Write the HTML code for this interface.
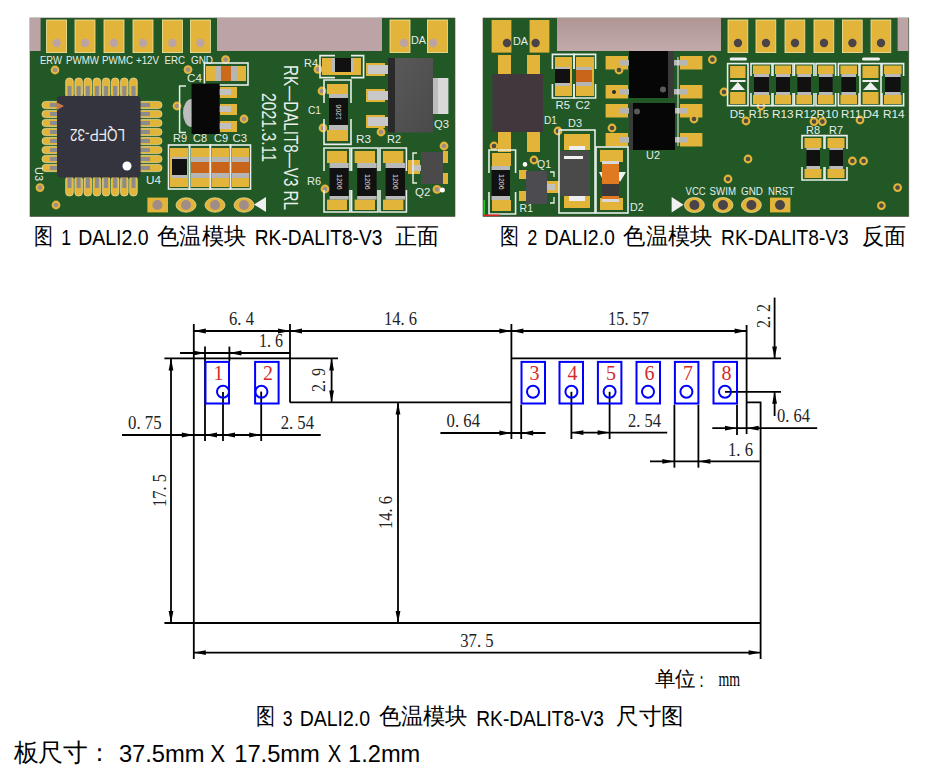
<!DOCTYPE html>
<html><head><meta charset="utf-8"><style>
html,body{margin:0;padding:0;background:#fff;}
body{width:931px;height:775px;overflow:hidden;position:relative;font-family:"Liberation Sans",sans-serif;}
svg{position:absolute;left:0;top:0;}
</style></head><body>
<svg width="931" height="775" viewBox="0 0 931 775">
<rect x="30" y="18" width="425.0" height="198.5" fill="#215826" stroke="#4a4a38" stroke-width="0.6"/>
<rect x="30" y="18" width="10.6" height="33.0" fill="#bba3a6" />
<rect x="217" y="18" width="165.0" height="33.0" fill="#bba3a6" />
<rect x="46.6" y="20" width="20.0" height="32.6" fill="#e2b43a" />
<rect x="46.6" y="20" width="20.0" height="32.6" fill="none" stroke="#f4e6a0" stroke-width="0.8"/>
<circle cx="56.6" cy="43" r="4.2" fill="#bba3a6"/>
<rect x="75" y="20" width="20.0" height="32.6" fill="#e2b43a" />
<rect x="75" y="20" width="20.0" height="32.6" fill="none" stroke="#f4e6a0" stroke-width="0.8"/>
<circle cx="85" cy="43" r="4.2" fill="#bba3a6"/>
<rect x="104" y="20" width="20.0" height="32.6" fill="#e2b43a" />
<rect x="104" y="20" width="20.0" height="32.6" fill="none" stroke="#f4e6a0" stroke-width="0.8"/>
<circle cx="114" cy="43" r="4.2" fill="#bba3a6"/>
<rect x="133" y="20" width="20.0" height="32.6" fill="#e2b43a" />
<rect x="133" y="20" width="20.0" height="32.6" fill="none" stroke="#f4e6a0" stroke-width="0.8"/>
<circle cx="143" cy="43" r="4.2" fill="#bba3a6"/>
<rect x="162.4" y="20" width="20.0" height="32.6" fill="#e2b43a" />
<rect x="162.4" y="20" width="20.0" height="32.6" fill="none" stroke="#f4e6a0" stroke-width="0.8"/>
<circle cx="172.4" cy="43" r="4.2" fill="#bba3a6"/>
<rect x="190.4" y="20" width="20.0" height="32.6" fill="#e2b43a" />
<rect x="190.4" y="20" width="20.0" height="32.6" fill="none" stroke="#f4e6a0" stroke-width="0.8"/>
<circle cx="200.4" cy="43" r="4.2" fill="#bba3a6"/>
<rect x="390" y="20" width="20.0" height="32.6" fill="#e2b43a" />
<rect x="390" y="20" width="20.0" height="32.6" fill="none" stroke="#f4e6a0" stroke-width="0.8"/>
<circle cx="404" cy="43" r="4.2" fill="#bba3a6"/>
<rect x="427.4" y="20" width="20.0" height="32.6" fill="#e2b43a" />
<rect x="427.4" y="20" width="20.0" height="32.6" fill="none" stroke="#f4e6a0" stroke-width="0.8"/>
<circle cx="433" cy="43" r="4.2" fill="#bba3a6"/>
<text x="411" y="44" font-family="Liberation Sans" font-size="11" fill="#e8eee8" textLength="15.0" lengthAdjust="spacingAndGlyphs" >DA</text>
<text x="40" y="63.6" font-family="Liberation Sans" font-size="10" fill="#e8eee8" textLength="22.0" lengthAdjust="spacingAndGlyphs" >ERW</text>
<text x="66" y="63.6" font-family="Liberation Sans" font-size="10" fill="#e8eee8" textLength="33.0" lengthAdjust="spacingAndGlyphs" >PWMW</text>
<text x="102" y="63.6" font-family="Liberation Sans" font-size="10" fill="#e8eee8" textLength="31.0" lengthAdjust="spacingAndGlyphs" >PWMC</text>
<text x="136" y="63.6" font-family="Liberation Sans" font-size="10" fill="#e8eee8" textLength="23.0" lengthAdjust="spacingAndGlyphs" >+12V</text>
<text x="164.4" y="63.6" font-family="Liberation Sans" font-size="10" fill="#e8eee8" textLength="20.6" lengthAdjust="spacingAndGlyphs" >ERC</text>
<text x="191" y="63.6" font-family="Liberation Sans" font-size="10" fill="#e8eee8" textLength="22.0" lengthAdjust="spacingAndGlyphs" >GND</text>
<circle cx="55" cy="70" r="4.4" fill="#e2b43a"/>
<circle cx="55" cy="70" r="2.3" fill="#a08d88"/>
<circle cx="225.6" cy="59.6" r="4.4" fill="#e2b43a"/>
<circle cx="225.6" cy="59.6" r="2.3" fill="#a08d88"/>
<circle cx="188" cy="69.6" r="4.4" fill="#e2b43a"/>
<circle cx="188" cy="69.6" r="2.3" fill="#a08d88"/>
<circle cx="244" cy="119" r="4.4" fill="#e2b43a"/>
<circle cx="244" cy="119" r="2.3" fill="#a08d88"/>
<circle cx="40" cy="187.6" r="4.4" fill="#e2b43a"/>
<circle cx="40" cy="187.6" r="2.3" fill="#a08d88"/>
<circle cx="56" cy="205" r="4.4" fill="#e2b43a"/>
<circle cx="56" cy="205" r="2.3" fill="#a08d88"/>
<circle cx="318" cy="69.4" r="4.4" fill="#e2b43a"/>
<circle cx="318" cy="69.4" r="2.3" fill="#a08d88"/>
<circle cx="322" cy="91" r="4.4" fill="#e2b43a"/>
<circle cx="322" cy="91" r="2.3" fill="#a08d88"/>
<circle cx="323" cy="128" r="4.4" fill="#e2b43a"/>
<circle cx="323" cy="128" r="2.3" fill="#a08d88"/>
<circle cx="381" cy="132" r="4.4" fill="#e2b43a"/>
<circle cx="381" cy="132" r="2.3" fill="#a08d88"/>
<circle cx="444" cy="146" r="4.4" fill="#e2b43a"/>
<circle cx="444" cy="146" r="2.3" fill="#a08d88"/>
<circle cx="325" cy="189" r="4.4" fill="#e2b43a"/>
<circle cx="325" cy="189" r="2.3" fill="#a08d88"/>
<circle cx="437" cy="189.4" r="4.4" fill="#e2b43a"/>
<circle cx="437" cy="189.4" r="2.3" fill="#a08d88"/>
<rect x="65.7" y="78" width="7.6" height="20.0" fill="#e2b43a" rx="3.5" stroke="#efe3a8" stroke-width="0.7"/>
<rect x="67.5" y="86" width="4.0" height="10.0" fill="#8c8c8c" />
<rect x="65.7" y="176" width="7.6" height="20.0" fill="#e2b43a" rx="3.5" stroke="#efe3a8" stroke-width="0.7"/>
<rect x="67.5" y="178" width="4.0" height="10.0" fill="#8c8c8c" />
<rect x="42" y="101.4" width="18.0" height="7.2" fill="#e2b43a" rx="3.5" stroke="#efe3a8" stroke-width="0.7"/>
<rect x="50" y="103" width="9.0" height="4.0" fill="#8c8c8c" />
<rect x="138" y="101.4" width="24.0" height="7.2" fill="#e2b43a" rx="3.5" stroke="#efe3a8" stroke-width="0.7"/>
<rect x="139" y="103" width="11.0" height="4.0" fill="#8c8c8c" />
<rect x="74.84" y="78" width="7.6" height="20.0" fill="#e2b43a" rx="3.5" stroke="#efe3a8" stroke-width="0.7"/>
<rect x="76.64" y="86" width="4.0" height="10.0" fill="#8c8c8c" />
<rect x="74.84" y="176" width="7.6" height="20.0" fill="#e2b43a" rx="3.5" stroke="#efe3a8" stroke-width="0.7"/>
<rect x="76.64" y="178" width="4.0" height="10.0" fill="#8c8c8c" />
<rect x="42" y="110.4" width="18.0" height="7.2" fill="#e2b43a" rx="3.5" stroke="#efe3a8" stroke-width="0.7"/>
<rect x="50" y="112" width="9.0" height="4.0" fill="#8c8c8c" />
<rect x="138" y="110.4" width="24.0" height="7.2" fill="#e2b43a" rx="3.5" stroke="#efe3a8" stroke-width="0.7"/>
<rect x="139" y="112" width="11.0" height="4.0" fill="#8c8c8c" />
<rect x="83.98" y="78" width="7.6" height="20.0" fill="#e2b43a" rx="3.5" stroke="#efe3a8" stroke-width="0.7"/>
<rect x="85.78" y="86" width="4.0" height="10.0" fill="#8c8c8c" />
<rect x="83.98" y="176" width="7.6" height="20.0" fill="#e2b43a" rx="3.5" stroke="#efe3a8" stroke-width="0.7"/>
<rect x="85.78" y="178" width="4.0" height="10.0" fill="#8c8c8c" />
<rect x="42" y="119.4" width="18.0" height="7.2" fill="#e2b43a" rx="3.5" stroke="#efe3a8" stroke-width="0.7"/>
<rect x="50" y="121" width="9.0" height="4.0" fill="#8c8c8c" />
<rect x="138" y="119.4" width="24.0" height="7.2" fill="#e2b43a" rx="3.5" stroke="#efe3a8" stroke-width="0.7"/>
<rect x="139" y="121" width="11.0" height="4.0" fill="#8c8c8c" />
<rect x="93.12" y="78" width="7.6" height="20.0" fill="#e2b43a" rx="3.5" stroke="#efe3a8" stroke-width="0.7"/>
<rect x="94.92" y="86" width="4.0" height="10.0" fill="#8c8c8c" />
<rect x="93.12" y="176" width="7.6" height="20.0" fill="#e2b43a" rx="3.5" stroke="#efe3a8" stroke-width="0.7"/>
<rect x="94.92" y="178" width="4.0" height="10.0" fill="#8c8c8c" />
<rect x="42" y="128.4" width="18.0" height="7.2" fill="#e2b43a" rx="3.5" stroke="#efe3a8" stroke-width="0.7"/>
<rect x="50" y="130" width="9.0" height="4.0" fill="#8c8c8c" />
<rect x="138" y="128.4" width="24.0" height="7.2" fill="#e2b43a" rx="3.5" stroke="#efe3a8" stroke-width="0.7"/>
<rect x="139" y="130" width="11.0" height="4.0" fill="#8c8c8c" />
<rect x="102.26" y="78" width="7.6" height="20.0" fill="#e2b43a" rx="3.5" stroke="#efe3a8" stroke-width="0.7"/>
<rect x="104.06" y="86" width="4.0" height="10.0" fill="#8c8c8c" />
<rect x="102.26" y="176" width="7.6" height="20.0" fill="#e2b43a" rx="3.5" stroke="#efe3a8" stroke-width="0.7"/>
<rect x="104.06" y="178" width="4.0" height="10.0" fill="#8c8c8c" />
<rect x="42" y="137.4" width="18.0" height="7.2" fill="#e2b43a" rx="3.5" stroke="#efe3a8" stroke-width="0.7"/>
<rect x="50" y="139" width="9.0" height="4.0" fill="#8c8c8c" />
<rect x="138" y="137.4" width="24.0" height="7.2" fill="#e2b43a" rx="3.5" stroke="#efe3a8" stroke-width="0.7"/>
<rect x="139" y="139" width="11.0" height="4.0" fill="#8c8c8c" />
<rect x="111.4" y="78" width="7.6" height="20.0" fill="#e2b43a" rx="3.5" stroke="#efe3a8" stroke-width="0.7"/>
<rect x="113.2" y="86" width="4.0" height="10.0" fill="#8c8c8c" />
<rect x="111.4" y="176" width="7.6" height="20.0" fill="#e2b43a" rx="3.5" stroke="#efe3a8" stroke-width="0.7"/>
<rect x="113.2" y="178" width="4.0" height="10.0" fill="#8c8c8c" />
<rect x="42" y="146.4" width="18.0" height="7.2" fill="#e2b43a" rx="3.5" stroke="#efe3a8" stroke-width="0.7"/>
<rect x="50" y="148" width="9.0" height="4.0" fill="#8c8c8c" />
<rect x="138" y="146.4" width="24.0" height="7.2" fill="#e2b43a" rx="3.5" stroke="#efe3a8" stroke-width="0.7"/>
<rect x="139" y="148" width="11.0" height="4.0" fill="#8c8c8c" />
<rect x="120.54" y="78" width="7.6" height="20.0" fill="#e2b43a" rx="3.5" stroke="#efe3a8" stroke-width="0.7"/>
<rect x="122.34" y="86" width="4.0" height="10.0" fill="#8c8c8c" />
<rect x="120.54" y="176" width="7.6" height="20.0" fill="#e2b43a" rx="3.5" stroke="#efe3a8" stroke-width="0.7"/>
<rect x="122.34" y="178" width="4.0" height="10.0" fill="#8c8c8c" />
<rect x="42" y="155.4" width="18.0" height="7.2" fill="#e2b43a" rx="3.5" stroke="#efe3a8" stroke-width="0.7"/>
<rect x="50" y="157" width="9.0" height="4.0" fill="#8c8c8c" />
<rect x="138" y="155.4" width="24.0" height="7.2" fill="#e2b43a" rx="3.5" stroke="#efe3a8" stroke-width="0.7"/>
<rect x="139" y="157" width="11.0" height="4.0" fill="#8c8c8c" />
<rect x="129.68" y="78" width="7.6" height="20.0" fill="#e2b43a" rx="3.5" stroke="#efe3a8" stroke-width="0.7"/>
<rect x="131.48000000000002" y="86" width="4.0" height="10.0" fill="#8c8c8c" />
<rect x="129.68" y="176" width="7.6" height="20.0" fill="#e2b43a" rx="3.5" stroke="#efe3a8" stroke-width="0.7"/>
<rect x="131.48000000000002" y="178" width="4.0" height="10.0" fill="#8c8c8c" />
<rect x="42" y="164.4" width="18.0" height="7.2" fill="#e2b43a" rx="3.5" stroke="#efe3a8" stroke-width="0.7"/>
<rect x="50" y="166" width="9.0" height="4.0" fill="#8c8c8c" />
<rect x="138" y="164.4" width="24.0" height="7.2" fill="#e2b43a" rx="3.5" stroke="#efe3a8" stroke-width="0.7"/>
<rect x="139" y="166" width="11.0" height="4.0" fill="#8c8c8c" />
<rect x="57" y="96" width="83.6" height="81.6" fill="#34343f" rx="4" />
<circle cx="127" cy="166" r="4.5" fill="#ffffff"/>
<polygon points="56,102 64,106 57,110" fill="#c87848"/>
<text x="0" y="0" transform="translate(125,129) rotate(180)" font-family="Liberation Sans" font-size="17" fill="#eeeeee" textLength="55" lengthAdjust="spacingAndGlyphs">LQFP-32</text>
<text x="0" y="0" transform="translate(35,167) rotate(90)" font-family="Liberation Sans" font-size="10.5" fill="#e8eee8" textLength="14.0" lengthAdjust="spacingAndGlyphs">U3</text>
<text x="146" y="184" font-family="Liberation Sans" font-size="10.5" fill="#e8eee8" textLength="15.0" lengthAdjust="spacingAndGlyphs" >U4</text>
<rect x="147.4" y="197.6" width="20.6" height="14.8" fill="#e2b43a" />
<circle cx="157.4" cy="205" r="5" fill="#a08d88"/>
<ellipse cx="186" cy="205" rx="10" ry="7.2" fill="#e2b43a" stroke="#efe3a8" stroke-width="0.7"/>
<circle cx="186" cy="205" r="5" fill="#a08d88"/>
<ellipse cx="215" cy="205" rx="10" ry="7.2" fill="#e2b43a" stroke="#efe3a8" stroke-width="0.7"/>
<circle cx="215" cy="205" r="5" fill="#a08d88"/>
<ellipse cx="244" cy="205" rx="10" ry="7.2" fill="#e2b43a" stroke="#efe3a8" stroke-width="0.7"/>
<circle cx="244" cy="205" r="5" fill="#a08d88"/>
<polygon points="254,204.5 266,197 266,212" fill="#f0f0f0"/>
<rect x="204.4" y="63" width="43.6" height="22.0" fill="none" stroke="#e8eee8" stroke-width="1.6"/>
<rect x="206" y="66" width="40.0" height="15.0" fill="#e2b43a" />
<rect x="215" y="66" width="22.0" height="15.0" fill="#b5b5b5" />
<rect x="221" y="66" width="10.0" height="15.0" fill="#cc6a1c" />
<text x="187" y="82" font-family="Liberation Sans" font-size="10.5" fill="#e8eee8" textLength="15.0" lengthAdjust="spacingAndGlyphs" >C4</text>
<ellipse cx="191.6" cy="113" rx="8.6" ry="14" fill="#bdbdbd" />
<circle cx="177" cy="106" r="4.4" fill="#e2b43a"/>
<circle cx="177" cy="106" r="2.3" fill="#a08d88"/>
<path d="M186,86 H179.6 V132.4 H186" fill="none" stroke="#e8eee8" stroke-width="1.5"/>
<rect x="220" y="87" width="17.0" height="11.0" fill="#e2b43a" />
<rect x="219" y="89" width="12.0" height="6.0" fill="#c0c0c0" />
<rect x="220" y="104" width="17.0" height="11.0" fill="#e2b43a" />
<rect x="219" y="106" width="12.0" height="6.0" fill="#c0c0c0" />
<rect x="220" y="121" width="17.0" height="11.0" fill="#e2b43a" />
<rect x="219" y="123" width="12.0" height="6.0" fill="#c0c0c0" />
<rect x="191.6" y="83.6" width="28.0" height="50.4" fill="#080808" />
<text x="173" y="142.4" font-family="Liberation Sans" font-size="10.5" fill="#e8eee8" textLength="14.0" lengthAdjust="spacingAndGlyphs" >R9</text>
<text x="193" y="142.4" font-family="Liberation Sans" font-size="10.5" fill="#e8eee8" textLength="14.0" lengthAdjust="spacingAndGlyphs" >C8</text>
<text x="214" y="142.4" font-family="Liberation Sans" font-size="10.5" fill="#e8eee8" textLength="14.0" lengthAdjust="spacingAndGlyphs" >C9</text>
<text x="232.4" y="142.4" font-family="Liberation Sans" font-size="10.5" fill="#e8eee8" textLength="14.6" lengthAdjust="spacingAndGlyphs" >C3</text>
<rect x="168.5" y="145" width="21.0" height="44.0" fill="none" stroke="#e8eee8" stroke-width="1.6"/>
<rect x="170" y="148" width="18.0" height="39.0" fill="#e2b43a" />
<rect x="171" y="157" width="16.0" height="21.0" fill="#b9b9b9" />
<rect x="172" y="159" width="15.0" height="16.0" fill="#111" />
<rect x="189.5" y="145" width="21.0" height="44.0" fill="none" stroke="#e8eee8" stroke-width="1.6"/>
<rect x="191" y="148" width="18.0" height="39.0" fill="#e2b43a" />
<rect x="191" y="157" width="18.0" height="21.0" fill="#b5b5b5" />
<rect x="191" y="162" width="18.0" height="11.0" fill="#c8651a" />
<rect x="210.1" y="145" width="20.4" height="44.0" fill="none" stroke="#e8eee8" stroke-width="1.6"/>
<rect x="211.6" y="148" width="17.4" height="39.0" fill="#e2b43a" />
<rect x="211.6" y="157" width="17.4" height="21.0" fill="#b5b5b5" />
<rect x="211.6" y="162" width="17.4" height="11.0" fill="#c8651a" />
<rect x="230.5" y="145" width="20.0" height="44.0" fill="none" stroke="#e8eee8" stroke-width="1.6"/>
<rect x="232" y="148" width="17.0" height="39.0" fill="#e2b43a" />
<rect x="232" y="157" width="17.0" height="21.0" fill="#b5b5b5" />
<rect x="232" y="162" width="17.0" height="11.0" fill="#c8651a" />
<text x="0" y="0" transform="translate(284,65) rotate(90)" font-family="Liberation Sans" font-size="19.5" fill="#e8eee8" textLength="145.0" lengthAdjust="spacingAndGlyphs">RK—DALIT8—V3  RL</text>
<text x="0" y="0" transform="translate(262,93) rotate(90)" font-family="Liberation Sans" font-size="19.5" fill="#e8eee8" textLength="69.0" lengthAdjust="spacingAndGlyphs">2021.3.11</text>
<path d="M335,55.6 H320 V77.6 H335 M351,55.6 H363.6 V77.6 H351" fill="none" stroke="#e8eee8" stroke-width="1.6"/>
<rect x="322" y="58" width="39.0" height="17.0" fill="#e2b43a" />
<rect x="332" y="58" width="22.0" height="14.0" fill="#b9b9b9" />
<rect x="335" y="58" width="16.0" height="14.0" fill="#111" />
<text x="304" y="67" font-family="Liberation Sans" font-size="10.5" fill="#e8eee8" textLength="14.0" lengthAdjust="spacingAndGlyphs" >R4</text>
<path d="M324,103 V80 H351 V103 M324,119 V144.4 H351 V119" fill="none" stroke="#e8eee8" stroke-width="1.6"/>
<rect x="327" y="84" width="21.0" height="10.0" fill="#e2b43a" />
<rect x="327" y="130" width="21.0" height="11.0" fill="#e2b43a" />
<rect x="329" y="94" width="19.0" height="4.0" fill="#b9b9b9" />
<rect x="329" y="125" width="19.0" height="5.0" fill="#b9b9b9" />
<rect x="329" y="98" width="19.0" height="27.0" fill="#111" />
<text x="308" y="114.4" font-family="Liberation Sans" font-size="10.5" fill="#e8eee8" textLength="13.0" lengthAdjust="spacingAndGlyphs" >C1</text>
<rect x="366" y="63" width="19.0" height="13.0" fill="#e2b43a" />
<rect x="368" y="65" width="21.0" height="9.0" fill="#c8c8c8" />
<rect x="366" y="89" width="19.0" height="13.0" fill="#e2b43a" />
<rect x="368" y="91" width="21.0" height="9.0" fill="#c8c8c8" />
<rect x="366" y="115" width="19.0" height="13.0" fill="#e2b43a" />
<rect x="368" y="117" width="21.0" height="9.0" fill="#c8c8c8" />
<rect x="433" y="78" width="15.4" height="36.0" fill="#d9d9d9" />
<rect x="433" y="78" width="5.0" height="36.0" fill="#bdbdbd" />
<defs><linearGradient id="q3g" x1="0" y1="0" x2="1" y2="1"><stop offset="0" stop-color="#5a5a5a"/><stop offset="1" stop-color="#4a4a4a"/></linearGradient></defs>
<rect x="388" y="58" width="45.0" height="74.4" fill="url(#q3g)" />
<rect x="388" y="58" width="7.0" height="74.4" fill="#2a2a2a" />
<text x="434" y="128" font-family="Liberation Sans" font-size="10.5" fill="#e8eee8" textLength="15.0" lengthAdjust="spacingAndGlyphs" >Q3</text>
<text x="356" y="143" font-family="Liberation Sans" font-size="10.5" fill="#e8eee8" textLength="15.0" lengthAdjust="spacingAndGlyphs" >R3</text>
<text x="387" y="143" font-family="Liberation Sans" font-size="10.5" fill="#e8eee8" textLength="14.0" lengthAdjust="spacingAndGlyphs" >R2</text>
<path d="M324,171 V148 H350 V171 M324,190 V212 H350 V190" fill="none" stroke="#e8eee8" stroke-width="1.6"/>
<rect x="327" y="151" width="20.0" height="12.0" fill="#e2b43a" />
<rect x="327" y="199.6" width="20.0" height="10.4" fill="#e2b43a" />
<rect x="329.6" y="163" width="19.0" height="5.0" fill="#b9b9b9" />
<rect x="329.6" y="196" width="19.0" height="3.6" fill="#b9b9b9" />
<rect x="329.6" y="168" width="19.0" height="28.0" fill="#111" />
<path d="M351.6,171 V148 H378 V171 M351.6,190 V212 H378 V190" fill="none" stroke="#e8eee8" stroke-width="1.6"/>
<rect x="354.6" y="151" width="20.4" height="12.0" fill="#e2b43a" />
<rect x="354.6" y="199.6" width="20.4" height="10.4" fill="#e2b43a" />
<rect x="357.20000000000005" y="163" width="19.4" height="5.0" fill="#b9b9b9" />
<rect x="357.20000000000005" y="196" width="19.4" height="3.6" fill="#b9b9b9" />
<rect x="357.20000000000005" y="168" width="19.4" height="28.0" fill="#111" />
<path d="M380,171 V148 H406.4 V171 M380,190 V212 H406.4 V190" fill="none" stroke="#e8eee8" stroke-width="1.6"/>
<rect x="383" y="151" width="20.4" height="12.0" fill="#e2b43a" />
<rect x="383" y="199.6" width="20.4" height="10.4" fill="#e2b43a" />
<rect x="385.6" y="163" width="19.4" height="5.0" fill="#b9b9b9" />
<rect x="385.6" y="196" width="19.4" height="3.6" fill="#b9b9b9" />
<rect x="385.6" y="168" width="19.4" height="28.0" fill="#111" />
<text transform="translate(336.8,174) rotate(90)" font-family="Liberation Sans" font-size="7" fill="#dddddd">1206</text>
<text transform="translate(364.5,174) rotate(90)" font-family="Liberation Sans" font-size="7" fill="#dddddd">1206</text>
<text transform="translate(392.8,174) rotate(90)" font-family="Liberation Sans" font-size="7" fill="#dddddd">1206</text>
<text transform="translate(341,120) rotate(-90)" font-family="Liberation Sans" font-size="7" fill="#dddddd">1206</text>
<text x="307" y="185" font-family="Liberation Sans" font-size="10.5" fill="#e8eee8" textLength="14.0" lengthAdjust="spacingAndGlyphs" >R6</text>
<rect x="408" y="160" width="12.0" height="14.0" fill="#e2b43a" />
<rect x="412" y="165" width="10.0" height="6.0" fill="#c0c0c0" />
<rect x="443" y="151" width="5.0" height="12.0" fill="#e2b43a" />
<rect x="443" y="173" width="5.0" height="11.0" fill="#e2b43a" />
<rect x="421" y="152" width="22.0" height="32.0" fill="#4a4a4a" />
<path d="M417,153 H413 V183 H417" fill="none" stroke="#e8eee8" stroke-width="1.4"/>
<text x="415" y="195.6" font-family="Liberation Sans" font-size="10.5" fill="#e8eee8" textLength="15.4" lengthAdjust="spacingAndGlyphs" >Q2</text>
<circle cx="442.4" cy="190" r="2.5" fill="#ffffff"/>
<rect x="483" y="18" width="425.8" height="198.5" fill="#215826" stroke="#4a4a38" stroke-width="0.6"/>
<defs><linearGradient id="pk" x1="0" y1="0" x2="0" y2="1"><stop offset="0" stop-color="#b09595"/><stop offset="1" stop-color="#c2aaaa"/></linearGradient></defs>
<rect x="557" y="18" width="164.0" height="33.0" fill="url(#pk)" />
<rect x="897.6" y="18" width="10.8" height="33.0" fill="#bba3a6" />
<rect x="491.6" y="20" width="19.8" height="32.6" fill="#e2b43a" />
<circle cx="507" cy="43" r="4.2" fill="#4a4448"/>
<rect x="529.6" y="20" width="19.8" height="32.6" fill="#e2b43a" />
<circle cx="535.6" cy="43" r="4.2" fill="#4a4448"/>
<text x="513" y="45" font-family="Liberation Sans" font-size="11" fill="#e8eee8" textLength="15.0" lengthAdjust="spacingAndGlyphs" >DA</text>
<rect x="728" y="20" width="19.8" height="32.6" fill="#e2b43a" />
<rect x="728" y="20" width="19.8" height="32.6" fill="none" stroke="#f4e6a0" stroke-width="0.8"/>
<circle cx="738" cy="43" r="4.2" fill="#4a4448"/>
<rect x="756" y="20" width="19.8" height="32.6" fill="#e2b43a" />
<rect x="756" y="20" width="19.8" height="32.6" fill="none" stroke="#f4e6a0" stroke-width="0.8"/>
<circle cx="766" cy="43" r="4.2" fill="#4a4448"/>
<rect x="785" y="20" width="19.8" height="32.6" fill="#e2b43a" />
<rect x="785" y="20" width="19.8" height="32.6" fill="none" stroke="#f4e6a0" stroke-width="0.8"/>
<circle cx="795" cy="43" r="4.2" fill="#4a4448"/>
<rect x="814" y="20" width="19.8" height="32.6" fill="#e2b43a" />
<rect x="814" y="20" width="19.8" height="32.6" fill="none" stroke="#f4e6a0" stroke-width="0.8"/>
<circle cx="824" cy="43" r="4.2" fill="#4a4448"/>
<rect x="842.4" y="20" width="19.8" height="32.6" fill="#e2b43a" />
<rect x="842.4" y="20" width="19.8" height="32.6" fill="none" stroke="#f4e6a0" stroke-width="0.8"/>
<circle cx="852.4" cy="43" r="4.2" fill="#4a4448"/>
<rect x="871" y="20" width="19.8" height="32.6" fill="#e2b43a" />
<rect x="871" y="20" width="19.8" height="32.6" fill="none" stroke="#f4e6a0" stroke-width="0.8"/>
<circle cx="881" cy="43" r="4.2" fill="#4a4448"/>
<rect x="498" y="55" width="13.0" height="97.0" fill="#e2b43a" />
<rect x="527" y="55" width="13.0" height="97.0" fill="#e2b43a" />
<rect x="492.4" y="74" width="50.6" height="58.0" fill="#41373c" />
<text x="544" y="124" font-family="Liberation Sans" font-size="10.5" fill="#e8eee8" textLength="13.0" lengthAdjust="spacingAndGlyphs" >D1</text>
<path d="M552.4,69 V54.4 H574 V69 M552.4,84 V98 H574 V84" fill="none" stroke="#e8eee8" stroke-width="1.6"/>
<path d="M574,69 V54.4 H595.6 V69 M574,84 V98 H595.6 V84" fill="none" stroke="#e8eee8" stroke-width="1.6"/>
<rect x="555" y="57" width="17.0" height="39.0" fill="#e2b43a" />
<rect x="555" y="67" width="15.0" height="19.0" fill="#b9b9b9" />
<rect x="555" y="69" width="15.0" height="14.0" fill="#111" />
<rect x="576" y="57" width="18.0" height="39.0" fill="#e2b43a" />
<rect x="576" y="67" width="16.0" height="19.0" fill="#b5b5b5" />
<rect x="576" y="70" width="16.0" height="12.0" fill="#c8651a" />
<text x="555.6" y="109" font-family="Liberation Sans" font-size="10.5" fill="#e8eee8" textLength="14.4" lengthAdjust="spacingAndGlyphs" >R5</text>
<text x="575.6" y="109" font-family="Liberation Sans" font-size="10.5" fill="#e8eee8" textLength="14.4" lengthAdjust="spacingAndGlyphs" >C2</text>
<text x="568" y="127" font-family="Liberation Sans" font-size="10.5" fill="#e8eee8" textLength="14.0" lengthAdjust="spacingAndGlyphs" >D3</text>
<rect x="605.6" y="56" width="22.4" height="13.5" fill="#e2b43a" />
<rect x="619" y="60" width="12.0" height="5.5" fill="#b5b5b5" />
<rect x="680" y="56" width="22.4" height="13.5" fill="#e2b43a" />
<rect x="672" y="60" width="16.0" height="5.5" fill="#b5b5b5" />
<rect x="605.6" y="85" width="22.4" height="13.5" fill="#e2b43a" />
<rect x="619" y="89" width="12.0" height="5.5" fill="#b5b5b5" />
<rect x="680" y="85" width="22.4" height="13.5" fill="#e2b43a" />
<rect x="672" y="89" width="16.0" height="5.5" fill="#b5b5b5" />
<rect x="605.6" y="104" width="22.4" height="13.5" fill="#e2b43a" />
<rect x="619" y="108" width="12.0" height="5.5" fill="#b5b5b5" />
<rect x="680" y="104" width="22.4" height="13.5" fill="#e2b43a" />
<rect x="672" y="108" width="16.0" height="5.5" fill="#b5b5b5" />
<rect x="605.6" y="133" width="22.4" height="13.5" fill="#e2b43a" />
<rect x="619" y="137" width="12.0" height="5.5" fill="#b5b5b5" />
<rect x="680" y="133" width="22.4" height="13.5" fill="#e2b43a" />
<rect x="672" y="137" width="16.0" height="5.5" fill="#b5b5b5" />
<path d="M678,57 V146" stroke="#e8eee8" stroke-width="1"/>
<rect x="629" y="51" width="45.0" height="47.0" fill="#060606" />
<rect x="668" y="51" width="6.0" height="47.0" fill="#3a3a3a" />
<circle cx="663" cy="89.6" r="3" fill="#5a5a5a"/>
<rect x="629" y="103" width="46.0" height="47.0" fill="#060606" />
<rect x="629" y="103" width="4.0" height="47.0" fill="#3a3a3a" />
<circle cx="637" cy="111.6" r="3" fill="#5a5a5a"/>
<circle cx="614" cy="92" r="2" fill="#2a2a2a"/>
<text x="646" y="159" font-family="Liberation Sans" font-size="10.5" fill="#e8eee8" textLength="14.0" lengthAdjust="spacingAndGlyphs" >U2</text>
<circle cx="619" cy="70" r="4.4" fill="#e2b43a"/>
<circle cx="619" cy="70" r="2.3" fill="#4e4a40"/>
<circle cx="558" cy="131" r="4.4" fill="#e2b43a"/>
<circle cx="558" cy="131" r="2.3" fill="#4e4a40"/>
<circle cx="612" cy="128" r="4.4" fill="#e2b43a"/>
<circle cx="612" cy="128" r="2.3" fill="#4e4a40"/>
<circle cx="494" cy="146" r="4.4" fill="#e2b43a"/>
<circle cx="494" cy="146" r="2.3" fill="#4e4a40"/>
<circle cx="534" cy="160" r="4.4" fill="#e2b43a"/>
<circle cx="534" cy="160" r="2.3" fill="#4e4a40"/>
<circle cx="712.4" cy="59.6" r="4.4" fill="#e2b43a"/>
<circle cx="712.4" cy="59.6" r="2.3" fill="#4e4a40"/>
<circle cx="724" cy="92" r="4.4" fill="#e2b43a"/>
<circle cx="724" cy="92" r="2.3" fill="#4e4a40"/>
<circle cx="746" cy="121" r="4.4" fill="#e2b43a"/>
<circle cx="746" cy="121" r="2.3" fill="#4e4a40"/>
<circle cx="748" cy="159" r="4.4" fill="#e2b43a"/>
<circle cx="748" cy="159" r="2.3" fill="#4e4a40"/>
<circle cx="728" cy="179" r="4.4" fill="#e2b43a"/>
<circle cx="728" cy="179" r="2.3" fill="#4e4a40"/>
<circle cx="814" cy="121.6" r="4.4" fill="#e2b43a"/>
<circle cx="814" cy="121.6" r="2.3" fill="#4e4a40"/>
<circle cx="822.4" cy="121.6" r="4.4" fill="#e2b43a"/>
<circle cx="822.4" cy="121.6" r="2.3" fill="#4e4a40"/>
<circle cx="860" cy="120" r="4.4" fill="#e2b43a"/>
<circle cx="860" cy="120" r="2.3" fill="#4e4a40"/>
<circle cx="852.4" cy="161" r="4.4" fill="#e2b43a"/>
<circle cx="852.4" cy="161" r="2.3" fill="#4e4a40"/>
<circle cx="863.6" cy="161" r="4.4" fill="#e2b43a"/>
<circle cx="863.6" cy="161" r="2.3" fill="#4e4a40"/>
<circle cx="897.6" cy="187.6" r="4.4" fill="#e2b43a"/>
<circle cx="897.6" cy="187.6" r="2.3" fill="#4e4a40"/>
<circle cx="881.4" cy="205.6" r="4.4" fill="#e2b43a"/>
<circle cx="881.4" cy="205.6" r="2.3" fill="#4e4a40"/>
<circle cx="694" cy="119" r="4.4" fill="#e2b43a"/>
<circle cx="694" cy="119" r="2.3" fill="#4e4a40"/>
<circle cx="761" cy="106" r="4.4" fill="#e2b43a"/>
<circle cx="761" cy="106" r="2.3" fill="#4e4a40"/>
<path d="M489,173 V150 H515.6 V173 M489,192 V214 H515.6 V192" fill="none" stroke="#e8eee8" stroke-width="1.6"/>
<rect x="492" y="153" width="19.0" height="13.0" fill="#e2b43a" />
<rect x="492" y="200" width="19.0" height="11.0" fill="#e2b43a" />
<rect x="491.6" y="166" width="18.4" height="4.0" fill="#b9b9b9" />
<rect x="491.6" y="196" width="18.4" height="4.0" fill="#b9b9b9" />
<rect x="491.6" y="170" width="18.4" height="26.0" fill="#111" />
<text transform="translate(498.5,174) rotate(90)" font-family="Liberation Sans" font-size="7" fill="#dddddd">1206</text>
<text x="519.6" y="212.4" font-family="Liberation Sans" font-size="10.5" fill="#e8eee8" textLength="13.4" lengthAdjust="spacingAndGlyphs" >R1</text>
<rect x="519" y="170" width="8.0" height="9.0" fill="#e2b43a" />
<rect x="519" y="191" width="8.0" height="10.0" fill="#e2b43a" />
<rect x="547" y="181" width="12.0" height="12.0" fill="#e2b43a" />
<rect x="547" y="184" width="8.0" height="6.0" fill="#c0c0c0" />
<rect x="526" y="171" width="21.0" height="33.0" fill="#4b4b50" />
<path d="M550,172 H554 V177 M554,197 V203 H550" fill="none" stroke="#e8eee8" stroke-width="1.3"/>
<text x="537" y="168" font-family="Liberation Sans" font-size="10.5" fill="#e8eee8" textLength="14.0" lengthAdjust="spacingAndGlyphs" >Q1</text>
<circle cx="525" cy="164.4" r="2.3" fill="#ffffff"/>
<rect x="559" y="130" width="36.0" height="83.0" fill="none" stroke="#e8eee8" stroke-width="1.6"/>
<rect x="564" y="134" width="26.0" height="16.0" fill="#e2b43a" />
<rect x="569" y="146" width="16.0" height="4.0" fill="#eeeeee" />
<rect x="564" y="196" width="26.0" height="12.0" fill="#e2b43a" />
<rect x="569" y="196" width="16.0" height="5.0" fill="#eeeeee" />
<rect x="560" y="151" width="30.0" height="45.0" fill="#4a4a4a" />
<rect x="564" y="156" width="19.0" height="3.0" fill="#f0f0f0" />
<rect x="596" y="147" width="32.0" height="66.0" fill="none" stroke="#e8eee8" stroke-width="1.6"/>
<rect x="600" y="150" width="23.0" height="12.0" fill="#e2b43a" />
<rect x="600" y="198" width="23.0" height="12.0" fill="#e2b43a" />
<polygon points="599,172 609,172 604,182" fill="#f0f0f0"/><polygon points="614,172 626,172 620,182" fill="#f0f0f0"/>
<rect x="602" y="161" width="17.0" height="41.0" fill="#e07a20" rx="3" />
<rect x="602" y="161" width="17.0" height="3.0" fill="#d8d8d8" />
<rect x="602" y="199" width="17.0" height="3.0" fill="#d8d8d8" />
<rect x="602" y="184" width="17.0" height="12.0" fill="#3a3a3a" />
<text x="630" y="211" font-family="Liberation Sans" font-size="10.5" fill="#e8eee8" textLength="13.6" lengthAdjust="spacingAndGlyphs" >D2</text>
<polygon points="671.6,197 671.6,212.4 683.6,204.7" fill="#f0f0f0"/>
<ellipse cx="694.4" cy="205" rx="10" ry="7.5" fill="#e2b43a" stroke="#efe3a8" stroke-width="0.7"/>
<circle cx="694.4" cy="205" r="5" fill="#4a4448"/>
<ellipse cx="723" cy="205" rx="10" ry="7.5" fill="#e2b43a" stroke="#efe3a8" stroke-width="0.7"/>
<circle cx="723" cy="205" r="5" fill="#4a4448"/>
<ellipse cx="751.4" cy="205" rx="10" ry="7.5" fill="#e2b43a" stroke="#efe3a8" stroke-width="0.7"/>
<circle cx="751.4" cy="205" r="5" fill="#4a4448"/>
<rect x="770" y="197.6" width="20.4" height="14.8" fill="#e2b43a" />
<circle cx="780" cy="205" r="5" fill="#4a4448"/>
<text x="685.6" y="195" font-family="Liberation Sans" font-size="10" fill="#e8eee8" textLength="20.0" lengthAdjust="spacingAndGlyphs" >VCC</text>
<text x="709.6" y="195" font-family="Liberation Sans" font-size="10" fill="#e8eee8" textLength="26.4" lengthAdjust="spacingAndGlyphs" >SWIM</text>
<text x="741" y="195" font-family="Liberation Sans" font-size="10" fill="#e8eee8" textLength="22.0" lengthAdjust="spacingAndGlyphs" >GND</text>
<text x="768" y="195" font-family="Liberation Sans" font-size="10" fill="#e8eee8" textLength="26.0" lengthAdjust="spacingAndGlyphs" >NRST</text>
<rect x="729.6" y="57.6" width="17.4" height="3.0" fill="#f0f0f0" rx="1.5" />
<rect x="727.6" y="63.6" width="20.4" height="42.0" fill="none" stroke="#e8eee8" stroke-width="1.6"/>
<rect x="730.1" y="66" width="15.4" height="12.0" fill="#e2b43a" />
<rect x="730.1" y="92" width="15.4" height="12.0" fill="#e2b43a" />
<rect x="730.1" y="80" width="15.4" height="2.0" fill="#f0f0f0" />
<polygon points="730.6,90 745,90 737.8,82" fill="#f0f0f0"/>
<rect x="862" y="57.6" width="18.0" height="3.0" fill="#f0f0f0" rx="1.5" />
<rect x="860" y="63.6" width="21.0" height="42.0" fill="none" stroke="#e8eee8" stroke-width="1.6"/>
<rect x="862.5" y="66" width="16.0" height="12.0" fill="#e2b43a" />
<rect x="862.5" y="92" width="16.0" height="12.0" fill="#e2b43a" />
<rect x="862.5" y="80" width="16.0" height="2.0" fill="#f0f0f0" />
<polygon points="863,90 878,90 870.5,82" fill="#f0f0f0"/>
<path d="M751,76 V63.6 H772 V76 M751,93 V105.6 H772 V93" fill="none" stroke="#e8eee8" stroke-width="1.6"/>
<rect x="753" y="65.5" width="17.0" height="8.5" fill="#e2b43a" />
<rect x="753" y="95" width="17.0" height="9.0" fill="#e2b43a" />
<rect x="754" y="74" width="15.0" height="3.0" fill="#b9b9b9" />
<rect x="754" y="92" width="15.0" height="3.0" fill="#b9b9b9" />
<rect x="754" y="77" width="15.0" height="15.0" fill="#111" />
<path d="M773,76 V63.6 H793 V76 M773,93 V105.6 H793 V93" fill="none" stroke="#e8eee8" stroke-width="1.6"/>
<rect x="775" y="65.5" width="16.0" height="8.5" fill="#e2b43a" />
<rect x="775" y="95" width="16.0" height="9.0" fill="#e2b43a" />
<rect x="776" y="74" width="14.0" height="3.0" fill="#b9b9b9" />
<rect x="776" y="92" width="14.0" height="3.0" fill="#b9b9b9" />
<rect x="776" y="77" width="14.0" height="15.0" fill="#111" />
<path d="M794.4,76 V63.6 H814 V76 M794.4,93 V105.6 H814 V93" fill="none" stroke="#e8eee8" stroke-width="1.6"/>
<rect x="796.4" y="65.5" width="15.6" height="8.5" fill="#e2b43a" />
<rect x="796.4" y="95" width="15.6" height="9.0" fill="#e2b43a" />
<rect x="797.4" y="74" width="13.6" height="3.0" fill="#b9b9b9" />
<rect x="797.4" y="92" width="13.6" height="3.0" fill="#b9b9b9" />
<rect x="797.4" y="77" width="13.6" height="15.0" fill="#111" />
<path d="M816,76 V63.6 H835.6 V76 M816,93 V105.6 H835.6 V93" fill="none" stroke="#e8eee8" stroke-width="1.6"/>
<rect x="818" y="65.5" width="15.6" height="8.5" fill="#e2b43a" />
<rect x="818" y="95" width="15.6" height="9.0" fill="#e2b43a" />
<rect x="819" y="74" width="13.6" height="3.0" fill="#b9b9b9" />
<rect x="819" y="92" width="13.6" height="3.0" fill="#b9b9b9" />
<rect x="819" y="77" width="13.6" height="15.0" fill="#111" />
<path d="M838.4,76 V63.6 H859 V76 M838.4,93 V105.6 H859 V93" fill="none" stroke="#e8eee8" stroke-width="1.6"/>
<rect x="840.4" y="65.5" width="16.6" height="8.5" fill="#e2b43a" />
<rect x="840.4" y="95" width="16.6" height="9.0" fill="#e2b43a" />
<rect x="841.4" y="74" width="14.6" height="3.0" fill="#b9b9b9" />
<rect x="841.4" y="92" width="14.6" height="3.0" fill="#b9b9b9" />
<rect x="841.4" y="77" width="14.6" height="15.0" fill="#111" />
<path d="M882,76 V63.6 H903.6 V76 M882,93 V105.6 H903.6 V93" fill="none" stroke="#e8eee8" stroke-width="1.6"/>
<rect x="884" y="65.5" width="17.6" height="8.5" fill="#e2b43a" />
<rect x="884" y="95" width="17.6" height="9.0" fill="#e2b43a" />
<rect x="885" y="74" width="15.6" height="3.0" fill="#b9b9b9" />
<rect x="885" y="92" width="15.6" height="3.0" fill="#b9b9b9" />
<rect x="885" y="77" width="15.6" height="15.0" fill="#111" />
<text x="729.8" y="118" font-family="Liberation Sans" font-size="10.5" fill="#e8eee8" textLength="14.9" lengthAdjust="spacingAndGlyphs" >D5</text>
<text x="748.8" y="118" font-family="Liberation Sans" font-size="10.5" fill="#e8eee8" textLength="20.2" lengthAdjust="spacingAndGlyphs" >R15</text>
<text x="771.9" y="118" font-family="Liberation Sans" font-size="10.5" fill="#e8eee8" textLength="21.6" lengthAdjust="spacingAndGlyphs" >R13</text>
<text x="795" y="118" font-family="Liberation Sans" font-size="10.5" fill="#e8eee8" textLength="21.6" lengthAdjust="spacingAndGlyphs" >R12</text>
<text x="816.6" y="118" font-family="Liberation Sans" font-size="10.5" fill="#e8eee8" textLength="21.7" lengthAdjust="spacingAndGlyphs" >R10</text>
<text x="841" y="118" font-family="Liberation Sans" font-size="10.5" fill="#e8eee8" textLength="20.3" lengthAdjust="spacingAndGlyphs" >R11</text>
<text x="862.7" y="118" font-family="Liberation Sans" font-size="10.5" fill="#e8eee8" textLength="16.3" lengthAdjust="spacingAndGlyphs" >D4</text>
<text x="883" y="118" font-family="Liberation Sans" font-size="10.5" fill="#e8eee8" textLength="21.7" lengthAdjust="spacingAndGlyphs" >R14</text>
<path d="M802,149 V135.6 H824 V149 M802,167 V180 H824 V167" fill="none" stroke="#e8eee8" stroke-width="1.6"/>
<rect x="804.5" y="138" width="17.0" height="10.0" fill="#e2b43a" />
<rect x="804.5" y="169" width="17.0" height="9.0" fill="#e2b43a" />
<rect x="806.4" y="148" width="13.6" height="2.0" fill="#b9b9b9" />
<rect x="806.4" y="166" width="13.6" height="3.0" fill="#b9b9b9" />
<rect x="806.4" y="150" width="13.6" height="16.0" fill="#111" />
<path d="M825,149 V135.6 H847 V149 M825,167 V180 H847 V167" fill="none" stroke="#e8eee8" stroke-width="1.6"/>
<rect x="827.5" y="138" width="17.0" height="10.0" fill="#e2b43a" />
<rect x="827.5" y="169" width="17.0" height="9.0" fill="#e2b43a" />
<rect x="829.4" y="148" width="13.6" height="2.0" fill="#b9b9b9" />
<rect x="829.4" y="166" width="13.6" height="3.0" fill="#b9b9b9" />
<rect x="829.4" y="150" width="13.6" height="16.0" fill="#111" />
<text x="806" y="134" font-family="Liberation Sans" font-size="10.5" fill="#e8eee8" textLength="14.0" lengthAdjust="spacingAndGlyphs" >R8</text>
<text x="829" y="134" font-family="Liberation Sans" font-size="10.5" fill="#e8eee8" textLength="14.0" lengthAdjust="spacingAndGlyphs" >R7</text>
<rect x="483.5" y="200" width="1.5" height="16.0" fill="#22cc22" />
<rect x="483" y="214.5" width="17.0" height="1.5" fill="#dd2222" />
<line x1="164.4" y1="358.4" x2="338" y2="358.4" stroke="#000" stroke-width="1.8"/>
<line x1="193.8" y1="324" x2="193.8" y2="659" stroke="#000" stroke-width="1.8"/>
<line x1="193.8" y1="331" x2="290" y2="331" stroke="#000" stroke-width="1.8"/>
<polygon points="193.8,331.0 205.8,328.6 205.8,333.4" fill="#000"/>
<polygon points="290.0,331.0 278.0,328.6 278.0,333.4" fill="#000"/>
<line x1="180" y1="353" x2="290" y2="353" stroke="#000" stroke-width="1.8"/>
<polygon points="205.0,353.0 193.0,350.6 193.0,355.4" fill="#000"/>
<polygon points="229.4,353.0 241.4,350.6 241.4,355.4" fill="#000"/>
<line x1="205" y1="346.6" x2="205" y2="441" stroke="#000" stroke-width="1.8"/>
<line x1="229.4" y1="346.6" x2="229.4" y2="361" stroke="#000" stroke-width="1.8"/>
<line x1="223" y1="392" x2="223" y2="441" stroke="#000" stroke-width="1.8"/>
<line x1="261.2" y1="391.6" x2="261.2" y2="441" stroke="#000" stroke-width="1.8"/>
<line x1="122" y1="435" x2="320.7" y2="435" stroke="#000" stroke-width="1.8"/>
<polygon points="193.8,435.0 181.8,432.6 181.8,437.4" fill="#000"/>
<polygon points="205.0,435.0 217.0,432.6 217.0,437.4" fill="#000"/>
<polygon points="223.0,435.0 235.0,432.6 235.0,437.4" fill="#000"/>
<polygon points="261.2,435.0 249.2,432.6 249.2,437.4" fill="#000"/>
<line x1="290" y1="324" x2="290" y2="402.4" stroke="#000" stroke-width="1.8"/>
<line x1="290" y1="402.4" x2="511.4" y2="402.4" stroke="#000" stroke-width="1.8"/>
<line x1="331.6" y1="358.4" x2="331.6" y2="402.4" stroke="#000" stroke-width="1.8"/>
<polygon points="331.6,358.4 329.2,370.4 334.0,370.4" fill="#000"/>
<polygon points="331.6,402.4 329.2,390.4 334.0,390.4" fill="#000"/>
<line x1="290" y1="331" x2="511.4" y2="331" stroke="#000" stroke-width="1.8"/>
<polygon points="290.0,331.0 302.0,328.6 302.0,333.4" fill="#000"/>
<polygon points="511.4,331.0 499.4,328.6 499.4,333.4" fill="#000"/>
<line x1="511.4" y1="324" x2="511.4" y2="439" stroke="#000" stroke-width="1.8"/>
<line x1="511.4" y1="358.4" x2="781" y2="358.4" stroke="#000" stroke-width="1.8"/>
<line x1="398" y1="402.4" x2="398" y2="623" stroke="#000" stroke-width="1.8"/>
<polygon points="398.0,402.4 395.6,414.4 400.4,414.4" fill="#000"/>
<polygon points="398.0,623.0 395.6,611.0 400.4,611.0" fill="#000"/>
<line x1="440.4" y1="433" x2="545.6" y2="433" stroke="#000" stroke-width="1.8"/>
<polygon points="511.4,433.0 499.4,430.6 499.4,435.4" fill="#000"/>
<polygon points="521.2,433.0 533.2,430.6 533.2,435.4" fill="#000"/>
<line x1="521.2" y1="404.7" x2="521.2" y2="439" stroke="#000" stroke-width="1.8"/>
<line x1="571.4" y1="391.8" x2="571.4" y2="439" stroke="#000" stroke-width="1.8"/>
<line x1="609.6" y1="391.8" x2="609.6" y2="439" stroke="#000" stroke-width="1.8"/>
<line x1="571.4" y1="432.6" x2="667.2" y2="432.6" stroke="#000" stroke-width="1.8"/>
<polygon points="571.4,432.6 583.4,430.2 583.4,435.0" fill="#000"/>
<polygon points="609.6,432.6 597.6,430.2 597.6,435.0" fill="#000"/>
<line x1="511.4" y1="331" x2="746.6" y2="331" stroke="#000" stroke-width="1.8"/>
<polygon points="511.4,331.0 523.4,328.6 523.4,333.4" fill="#000"/>
<polygon points="746.6,331.0 734.6,328.6 734.6,333.4" fill="#000"/>
<line x1="746.6" y1="325" x2="746.6" y2="434" stroke="#000" stroke-width="1.8"/>
<line x1="725" y1="391.8" x2="781" y2="391.8" stroke="#000" stroke-width="1.8"/>
<line x1="774.6" y1="297.6" x2="774.6" y2="358.4" stroke="#000" stroke-width="1.8"/>
<polygon points="774.6,358.4 772.2,346.4 777.0,346.4" fill="#000"/>
<line x1="774.6" y1="391.8" x2="774.6" y2="416" stroke="#000" stroke-width="1.8"/>
<polygon points="774.6,391.8 772.2,403.8 777.0,403.8" fill="#000"/>
<polyline points="746.6,402.4 760.6,402.4 760.6,659" fill="none" stroke="#000" stroke-width="1.8"/>
<line x1="712.3" y1="428.2" x2="817.2" y2="428.2" stroke="#000" stroke-width="1.8"/>
<polygon points="737.0,428.2 725.0,425.8 725.0,430.6" fill="#000"/>
<polygon points="746.6,428.2 758.6,425.8 758.6,430.6" fill="#000"/>
<line x1="737" y1="404.7" x2="737" y2="435" stroke="#000" stroke-width="1.8"/>
<line x1="674.4" y1="404.7" x2="674.4" y2="467.7" stroke="#000" stroke-width="1.8"/>
<line x1="698.4" y1="404.7" x2="698.4" y2="467.7" stroke="#000" stroke-width="1.8"/>
<line x1="650" y1="461.4" x2="759.7" y2="461.4" stroke="#000" stroke-width="1.8"/>
<polygon points="674.4,461.4 662.4,459.0 662.4,463.8" fill="#000"/>
<polygon points="698.4,461.4 710.4,459.0 710.4,463.8" fill="#000"/>
<line x1="171" y1="358.4" x2="171" y2="623" stroke="#000" stroke-width="1.8"/>
<polygon points="171.0,358.4 168.6,370.4 173.4,370.4" fill="#000"/>
<polygon points="171.0,623.0 168.6,611.0 173.4,611.0" fill="#000"/>
<line x1="164.4" y1="623" x2="760.6" y2="623" stroke="#000" stroke-width="1.8"/>
<line x1="193.8" y1="652.6" x2="760.6" y2="652.6" stroke="#000" stroke-width="1.8"/>
<polygon points="193.8,652.6 205.8,650.2 205.8,655.0" fill="#000"/>
<polygon points="760.6,652.6 748.6,650.2 748.6,655.0" fill="#000"/>
<rect x="205.5" y="361.9" width="23.5" height="41.6" fill="none" stroke="#0000ff" stroke-width="2"/>
<circle cx="223" cy="391.8" r="6" fill="none" stroke="#0000ff" stroke-width="2"/>
<text x="213.5" y="379.8" font-family="Liberation Serif" font-size="22" fill="#d42a2a" textLength="10.0" lengthAdjust="spacingAndGlyphs" >1</text>
<rect x="255.1" y="361.9" width="23.5" height="41.6" fill="none" stroke="#0000ff" stroke-width="2"/>
<circle cx="261.4" cy="391.8" r="6" fill="none" stroke="#0000ff" stroke-width="2"/>
<text x="263.1" y="379.8" font-family="Liberation Serif" font-size="22" fill="#d42a2a" textLength="10.0" lengthAdjust="spacingAndGlyphs" >2</text>
<rect x="521.5" y="361.9" width="23.5" height="41.6" fill="none" stroke="#0000ff" stroke-width="2"/>
<circle cx="533" cy="391.8" r="6" fill="none" stroke="#0000ff" stroke-width="2"/>
<text x="529.5" y="379.8" font-family="Liberation Serif" font-size="22" fill="#d42a2a" textLength="10.0" lengthAdjust="spacingAndGlyphs" >3</text>
<rect x="559.5" y="361.9" width="23.5" height="41.6" fill="none" stroke="#0000ff" stroke-width="2"/>
<circle cx="571.4" cy="391.8" r="6" fill="none" stroke="#0000ff" stroke-width="2"/>
<text x="567.5" y="379.8" font-family="Liberation Serif" font-size="22" fill="#d42a2a" textLength="10.0" lengthAdjust="spacingAndGlyphs" >4</text>
<rect x="597.9" y="361.9" width="23.5" height="41.6" fill="none" stroke="#0000ff" stroke-width="2"/>
<circle cx="609.6" cy="391.8" r="6" fill="none" stroke="#0000ff" stroke-width="2"/>
<text x="605.9" y="379.8" font-family="Liberation Serif" font-size="22" fill="#d42a2a" textLength="10.0" lengthAdjust="spacingAndGlyphs" >5</text>
<rect x="636.5" y="361.9" width="23.5" height="41.6" fill="none" stroke="#0000ff" stroke-width="2"/>
<circle cx="648" cy="391.8" r="6" fill="none" stroke="#0000ff" stroke-width="2"/>
<text x="644.5" y="379.8" font-family="Liberation Serif" font-size="22" fill="#d42a2a" textLength="10.0" lengthAdjust="spacingAndGlyphs" >6</text>
<rect x="674.9" y="361.9" width="23.5" height="41.6" fill="none" stroke="#0000ff" stroke-width="2"/>
<circle cx="686.4" cy="391.8" r="6" fill="none" stroke="#0000ff" stroke-width="2"/>
<text x="682.9" y="379.8" font-family="Liberation Serif" font-size="22" fill="#d42a2a" textLength="10.0" lengthAdjust="spacingAndGlyphs" >7</text>
<rect x="713.5" y="361.9" width="23.5" height="41.6" fill="none" stroke="#0000ff" stroke-width="2"/>
<circle cx="725" cy="391.8" r="6" fill="none" stroke="#0000ff" stroke-width="2"/>
<text x="721.5" y="379.8" font-family="Liberation Serif" font-size="22" fill="#d42a2a" textLength="10.0" lengthAdjust="spacingAndGlyphs" >8</text>
<text x="229" y="325" font-family="Liberation Serif" font-size="18" fill="#222" textLength="25" lengthAdjust="spacingAndGlyphs" >6. 4</text>
<text x="259" y="347" font-family="Liberation Serif" font-size="18" fill="#222" textLength="24" lengthAdjust="spacingAndGlyphs" >1. 6</text>
<text x="128" y="429" font-family="Liberation Serif" font-size="18" fill="#222" textLength="33.599999999999994" lengthAdjust="spacingAndGlyphs" >0. 75</text>
<text x="280.7" y="429" font-family="Liberation Serif" font-size="18" fill="#222" textLength="33.30000000000001" lengthAdjust="spacingAndGlyphs" >2. 54</text>
<text x="384" y="325" font-family="Liberation Serif" font-size="18" fill="#222" textLength="33" lengthAdjust="spacingAndGlyphs" >14. 6</text>
<text x="446.6" y="427" font-family="Liberation Serif" font-size="18" fill="#222" textLength="33.39999999999998" lengthAdjust="spacingAndGlyphs" >0. 64</text>
<text x="628" y="427" font-family="Liberation Serif" font-size="18" fill="#222" textLength="33" lengthAdjust="spacingAndGlyphs" >2. 54</text>
<text x="608" y="325" font-family="Liberation Serif" font-size="18" fill="#222" textLength="41" lengthAdjust="spacingAndGlyphs" >15. 57</text>
<text x="777" y="422" font-family="Liberation Serif" font-size="18" fill="#222" textLength="33" lengthAdjust="spacingAndGlyphs" >0. 64</text>
<text x="728" y="456.4" font-family="Liberation Serif" font-size="18" fill="#222" textLength="25" lengthAdjust="spacingAndGlyphs" >1. 6</text>
<text x="460.3" y="647" font-family="Liberation Serif" font-size="18" fill="#222" textLength="33.30000000000001" lengthAdjust="spacingAndGlyphs" >37. 5</text>
<text x="0" y="0" transform="translate(325,392) rotate(-90)" font-family="Liberation Serif" font-size="18" fill="#222" textLength="24" lengthAdjust="spacingAndGlyphs">2. 9</text>
<text x="0" y="0" transform="translate(392.4,529) rotate(-90)" font-family="Liberation Serif" font-size="18" fill="#222" textLength="33" lengthAdjust="spacingAndGlyphs">14. 6</text>
<text x="0" y="0" transform="translate(165.6,507) rotate(-90)" font-family="Liberation Serif" font-size="18" fill="#222" textLength="33" lengthAdjust="spacingAndGlyphs">17. 5</text>
<text x="0" y="0" transform="translate(770,328) rotate(-90)" font-family="Liberation Serif" font-size="18" fill="#222" textLength="24" lengthAdjust="spacingAndGlyphs">2. 2</text>
<text x="34" y="243.5" font-family="Liberation Serif" font-size="22.5" fill="#000" textLength="19" lengthAdjust="spacingAndGlyphs" >图</text>
<text x="61.2" y="244.8" font-family="Liberation Sans" font-size="21.5" fill="#000" textLength="9.799999999999997" lengthAdjust="spacingAndGlyphs" >1</text>
<text x="78.2" y="244.8" font-family="Liberation Sans" font-size="21.5" fill="#000" textLength="70.39999999999999" lengthAdjust="spacingAndGlyphs" >DALI2.0</text>
<text x="157" y="243.5" font-family="Liberation Serif" font-size="22.5" fill="#000" textLength="89" lengthAdjust="spacingAndGlyphs" >色温模块</text>
<text x="254.8" y="244.8" font-family="Liberation Sans" font-size="21.5" fill="#000" textLength="127.59999999999997" lengthAdjust="spacingAndGlyphs" >RK-DALIT8-V3</text>
<text x="395.1" y="243.5" font-family="Liberation Serif" font-size="22.5" fill="#000" textLength="43.89999999999998" lengthAdjust="spacingAndGlyphs" >正面</text>
<text x="500.3" y="243.5" font-family="Liberation Serif" font-size="22.5" fill="#000" textLength="18.999999999999943" lengthAdjust="spacingAndGlyphs" >图</text>
<text x="527.5" y="244.8" font-family="Liberation Sans" font-size="21.5" fill="#000" textLength="9.799999999999955" lengthAdjust="spacingAndGlyphs" >2</text>
<text x="544.5" y="244.8" font-family="Liberation Sans" font-size="21.5" fill="#000" textLength="70.39999999999998" lengthAdjust="spacingAndGlyphs" >DALI2.0</text>
<text x="623.3" y="243.5" font-family="Liberation Serif" font-size="22.5" fill="#000" textLength="89.0" lengthAdjust="spacingAndGlyphs" >色温模块</text>
<text x="721.1" y="244.8" font-family="Liberation Sans" font-size="21.5" fill="#000" textLength="127.60000000000002" lengthAdjust="spacingAndGlyphs" >RK-DALIT8-V3</text>
<text x="861.5" y="243.5" font-family="Liberation Serif" font-size="22.5" fill="#000" textLength="44.299999999999955" lengthAdjust="spacingAndGlyphs" >反面</text>
<text x="255.5" y="724.4000000000001" font-family="Liberation Serif" font-size="22.5" fill="#000" textLength="19.0" lengthAdjust="spacingAndGlyphs" >图</text>
<text x="282.7" y="725.7" font-family="Liberation Sans" font-size="21.5" fill="#000" textLength="9.800000000000011" lengthAdjust="spacingAndGlyphs" >3</text>
<text x="299.7" y="725.7" font-family="Liberation Sans" font-size="21.5" fill="#000" textLength="70.40000000000003" lengthAdjust="spacingAndGlyphs" >DALI2.0</text>
<text x="378.5" y="724.4000000000001" font-family="Liberation Serif" font-size="22.5" fill="#000" textLength="89.0" lengthAdjust="spacingAndGlyphs" >色温模块</text>
<text x="476.3" y="725.7" font-family="Liberation Sans" font-size="21.5" fill="#000" textLength="127.59999999999997" lengthAdjust="spacingAndGlyphs" >RK-DALIT8-V3</text>
<text x="616.3" y="724.4000000000001" font-family="Liberation Serif" font-size="22.5" fill="#000" textLength="67.5" lengthAdjust="spacingAndGlyphs" >尺寸图</text>
<text x="13.5" y="761.2" font-family="Liberation Serif" font-size="25" fill="#000" textLength="74.5" lengthAdjust="spacingAndGlyphs" >板尺寸</text>
<text x="87.5" y="761.2" font-family="Liberation Serif" font-size="25" fill="#000" textLength="23.0" lengthAdjust="spacingAndGlyphs" >：</text>
<text x="118.9" y="761.7" font-family="Liberation Sans" font-size="23" fill="#000" textLength="85.69999999999999" lengthAdjust="spacingAndGlyphs" >37.5mm</text>
<text x="210.3" y="761.7" font-family="Liberation Sans" font-size="23" fill="#000" textLength="14.899999999999977" lengthAdjust="spacingAndGlyphs" >X</text>
<text x="234.2" y="761.7" font-family="Liberation Sans" font-size="23" fill="#000" textLength="85.69999999999999" lengthAdjust="spacingAndGlyphs" >17.5mm</text>
<text x="327.8" y="761.7" font-family="Liberation Sans" font-size="23" fill="#000" textLength="13.5" lengthAdjust="spacingAndGlyphs" >X</text>
<text x="348.1" y="761.7" font-family="Liberation Sans" font-size="23" fill="#000" textLength="72.19999999999999" lengthAdjust="spacingAndGlyphs" >1.2mm</text>
<text x="654.5" y="685.5" font-family="Liberation Serif" font-size="21" fill="#000" textLength="41.0" lengthAdjust="spacingAndGlyphs" >单位</text>
<text x="695" y="686.5" font-family="Liberation Serif" font-size="21" fill="#000" textLength="13" lengthAdjust="spacingAndGlyphs" >：</text>
<text x="718.4" y="685.6" font-family="Liberation Serif" font-size="21" fill="#000" textLength="21.600000000000023" lengthAdjust="spacingAndGlyphs" >mm</text>
</svg>
</body></html>
